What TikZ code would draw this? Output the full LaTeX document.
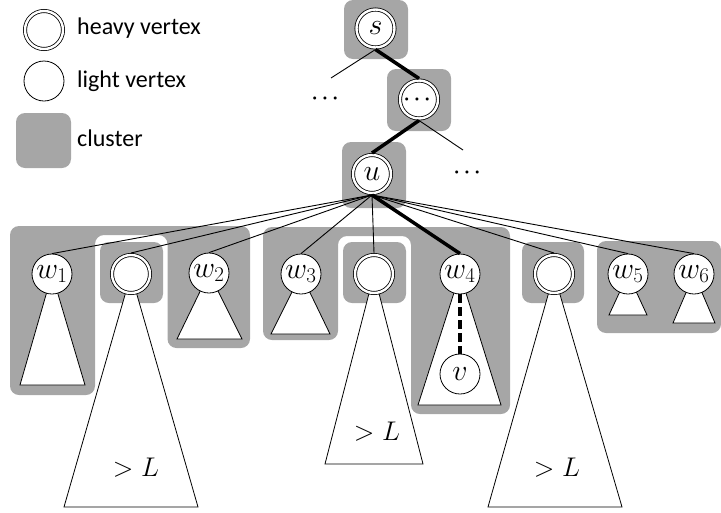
\RequirePackage{fix-cm}
\documentclass[tikz,border=0pt]{standalone}
\usepackage[no-math]{fontspec}
\setmainfont{Carlito}
\usepackage{amsmath}
\definecolor{clustergray}{RGB}{166,166,166}

\begin{document}
\begin{tikzpicture}[x = 1pt, y = -1pt,
            font = \fontsize{30}{34}\selectfont,
            cluster/.style = {fill = clustergray, rounded corners = 9pt},
            light/.style = {circle, draw, fill = white, line width = 0.8pt,
                minimum size = 40pt, inner sep = 0pt},
            heavy/.style = {circle, draw, fill = white, double, double distance = 2.4pt,
                line width = 0.8pt, minimum size = 38pt, inner sep = 0pt, outer sep = 2pt},
            subtree/.style = {draw, fill = white, line width = 0.8pt},
            edge/.style = {line width = 0.9pt},
            heavyedge/.style = {line width = 3.5pt},
            dotstext/.style = {font = \fontsize{20}{22}\selectfont},
            sizetext/.style = {font = \fontsize{27}{30}\selectfont},
            legtext/.style = {anchor = west, inner sep = 0pt, font = \fontsize{24}{28}\selectfont}]
            
            \useasboundingbox (0,0) rectangle (721,512);
            
            % legend
            \node[heavy] (legheavy) at (44,30) {};
            \node[legtext] (legheavytext) at (77,28) {heavy vertex};
            \node[light] (leglight) at (44,81) {};
            \node[legtext] (leglighttext) at (77,81) {light vertex};
            \node[cluster, minimum width = 55pt, minimum height = 55pt] (legcluster) at (43.5,140.5) {};
            \node[legtext] (legclustertext) at (77,138) {cluster};
            
            % clusters
            \fill[cluster] (344,0) rectangle (408,59);
            \fill[cluster] (387,69) rectangle (451,131);
            \fill[cluster] (342,142) rectangle (406,208);
            \fill[cluster]
            (10,226) -- (250,226) -- (250,348) -- (167.5,348) -- (167.5,235)
            -- (95,235) -- (95,395) -- (10,395) -- cycle;
            \fill[cluster] (100,242) rectangle (163,303);
            \fill[cluster]
            (263,227) -- (510,227) -- (510,414) -- (411,414) -- (411,236)
            -- (338,236) -- (338,340) -- (263,340) -- cycle;
            \fill[cluster] (343,242) rectangle (406,303);
            \fill[cluster] (522,242) rectangle (584,303);
            \fill[cluster] (597,241) rectangle (721,333);
            
            % subtrees
            \coordinate (pw1) at (52,274);
            \coordinate (ph1) at (131,274);
            \coordinate (pw2) at (209,273);
            \coordinate (pw3) at (301,274);
            \coordinate (ph2) at (374,274);
            \coordinate (pw4) at (460,274);
            \coordinate (ph3) at (554,274);
            \coordinate (pw5) at (628,274);
            \coordinate (pw6) at (694,274);
            
            \draw[subtree] (pw1) -- +(-32,111) -- +(33,111) -- cycle;
            \draw[subtree] (ph1) -- +(-67,233) -- +(67,233) -- cycle;
            \draw[subtree] (pw2) -- +(-32,66) -- +(33,66) -- cycle;
            \draw[subtree] (pw3) -- +(-30,60) -- +(29,60) -- cycle;
            \draw[subtree] (ph2) -- +(-49,190) -- +(49,190) -- cycle;
            \draw[subtree] (pw4) -- +(-42,131) -- +(41,131) -- cycle;
            \draw[subtree] (ph3) -- +(-66,233) -- +(68,233) -- cycle;
            \draw[subtree] (pw5) -- +(-19,41) -- +(19,41) -- cycle;
            \draw[subtree] (pw6) -- +(-21,49) -- +(21,49) -- cycle;
            
            \node[sizetext] (bigleft) at (136,468) {$>L$};
            \node[sizetext] (bigmid) at (377,432) {$>L$};
            \node[sizetext] (bigright) at (557,468) {$>L$};
            
            % vertices
            \node[heavy] (s) at (375.5,28.5) {$s$};
            \node[heavy, dotstext] (dots) at (419,99.5) {$\boldsymbol{\cdots}$};
            \node[heavy] (u) at (372,174) {$u$};
            \node[dotstext] (ldots) at (327,99) {$\boldsymbol{\cdots}$};
            \node[dotstext] (rdots) at (469,173) {$\boldsymbol{\cdots}$};
            \coordinate (sleft) at (331,78);
            \coordinate (dright) at (463,150);
            
            \node[light] (w1) at (pw1) {$w_1$};
            \node[heavy] (h1) at (ph1) {};
            \node[light] (w2) at (pw2) {$w_2$};
            \node[light] (w3) at (pw3) {$w_3$};
            \node[heavy] (h2) at (ph2) {};
            \node[light] (w4) at (pw4) {$w_4$};
            \node[light] (v) at (460,374) {$v$};
            \node[heavy] (h3) at (ph3) {};
            \node[light] (w5) at (pw5) {$w_5$};
            \node[light] (w6) at (pw6) {$w_6$};
            
            % edges
            \draw[edge] (s.south) -- (sleft);
            \draw[heavyedge] (s.south) -- (dots.north);
            \draw[heavyedge] (dots.south) -- (u.north);
            \draw[edge] (dots.south) -- (dright);
            \foreach \c in {w1, h1, w2, w3, h2, h3, w5, w6}
                \draw[edge] (u.south) -- (\c.north);
            \draw[heavyedge] (u.south) -- (w4.north);
            \draw[heavyedge, dash pattern = on 9pt off 4pt] (w4.south) -- (v.north);
        \end{tikzpicture}
\end{document}
